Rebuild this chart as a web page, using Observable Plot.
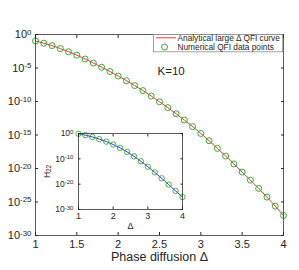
<!DOCTYPE html>
<html><head><meta charset="utf-8">
<script src="https://cdn.jsdelivr.net/npm/d3@7"></script>
<script src="https://cdn.jsdelivr.net/npm/@observablehq/plot@0.6"></script>
<style>
body{margin:0;background:#fff;}
#wrap{position:relative;width:299px;height:270px;}
#wrap svg{position:absolute;}
</style></head><body><div id="wrap"></div>
<script>
// ---- data ----
const deltaMain = [1.0,1.1,1.2,1.3,1.4,1.5,1.6,1.7,1.8,1.9,2.0,2.1,2.2,2.3,2.4,2.5,2.6,2.7,2.8,2.9,3.0,3.1,3.2,3.3,3.4,3.5,3.6,3.7,3.8,3.9,4.0];
const qfiNumerical = [1.1e-1,5.0e-2,2.2e-2,7.9e-3,2.7e-3,8.3e-4,2.2e-4,5.5e-5,1.3e-5,3.0e-6,6.2e-7,1.26e-7,2.4e-8,4.2e-9,6.5e-10,9.1e-11,1.23e-11,1.5e-12,1.7e-13,1.8e-14,1.7e-15,1.4e-16,1.0e-17,7.2e-19,4.8e-20,2.9e-21,1.8e-22,1.05e-23,5.4e-25,2.4e-26,9.8e-28];
const qfiAnalytical = [1.1e-1,5.0e-2,2.2e-2,7.9e-3,2.7e-3,8.3e-4,2.2e-4,5.5e-5,1.3e-5,3.0e-6,6.2e-7,1.26e-7,2.4e-8,4.2e-9,6.5e-10,9.1e-11,1.23e-11,1.5e-12,1.7e-13,1.8e-14,1.7e-15,1.4e-16,1.0e-17,7.2e-19,4.8e-20,2.9e-21,1.8e-22,1.05e-23,5.4e-25,2.4e-26,9.8e-28];
const xTicksMain = [1,1.5,2,2.5,3,3.5,4];
const yTicksMain = [1,1e-5,1e-10,1e-15,1e-20,1e-25,1e-30];

const deltaInset = [1.0,1.2,1.4,1.6,1.8,2.0,2.2,2.4,2.6,2.8,3.0,3.2,3.4,3.6,3.8,4.0];
const h22Values = [8e-1,2.2e-1,4.5e-2,6.3e-3,6.3e-4,4.5e-5,2.0e-6,5.6e-8,1.0e-9,1.1e-11,7.9e-14,4.5e-16,2.0e-18,7.1e-21,2.2e-23,7.9e-26];
const xTicksInset = [1,2,3,4];
const yTicksInset = [1,1e-10,1e-20,1e-30];

const legendLabels = ["Analytical large \u0394 QFI curve","Numerical QFI data points"];
const annotation = "K=10";

// ---- styling ----
const FONT = "'Liberation Sans', Arial, Helvetica, sans-serif";
const GREEN = "#22a022";
const INK = "#262626";
const pow10 = d => "10^" + Math.round(Math.log10(d));

const numData = deltaMain.map((d,i)=>({delta:d, qfi:qfiNumerical[i]}));
const anaData = deltaMain.map((d,i)=>({delta:d, qfi:qfiAnalytical[i]}));
const insetData = deltaInset.map((d,i)=>({delta:d, h:h22Values[i]}));

const main = Plot.plot({
  width: 299, height: 270,
  marginLeft: 35, marginRight: 16, marginTop: 34, marginBottom: 35,
  style: {fontFamily: FONT, fontSize: "11px", color: INK, background: "white", overflow: "visible"},
  x: {domain: [1, 4]},
  y: {type: "log", domain: [1e-30, 1]},
  marks: [
    Plot.line(anaData, {x: "delta", y: "qfi", stroke: "#ff0000", strokeWidth: 0.8}),
    Plot.dot(numData, {x: "delta", y: "qfi", r: 3, stroke: GREEN, strokeWidth: 0.9, fill: "none"}),
    Plot.frame({stroke: "#333", strokeWidth: 0.8}),
    Plot.axisX({ticks: xTicksMain, tickSize: -3, tickPadding: 8, tickFormat: d => String(d), label: null}),
    Plot.axisX({ticks: [], tickSize: 0, label: "Phase diffusion \u0394", labelAnchor: "center", labelArrow: "none", labelOffset: 25, fontSize: 12.5}),
    Plot.axisX({anchor: "top", ticks: xTicksMain, tickSize: -3, tickFormat: () => "", label: null}),
    Plot.axisY({ticks: yTicksMain, tickSize: -3, tickPadding: 7, tickFormat: pow10, label: null}),
    Plot.axisY({anchor: "right", ticks: yTicksMain, tickSize: -3, tickFormat: () => "", label: null}),
    Plot.text([annotation], {text: d => d, frameAnchor: "top-left", dx: 122, dy: 40, textAnchor: "start", lineAnchor: "bottom", fontSize: 11.5})
  ]
});

const inset = Plot.plot({
  width: 160, height: 108,
  marginLeft: 42, marginTop: 8, marginRight: 14, marginBottom: 24,
  style: {fontFamily: FONT, fontSize: "8.5px", color: INK, background: "transparent", overflow: "visible"},
  x: {domain: [1, 4]},
  y: {type: "log", domain: [1e-30, 1]},
  marks: [
    Plot.frame({fill: "white"}),
    Plot.line(insetData, {x: "delta", y: "h", stroke: "#0000ff", strokeWidth: 0.8}),
    Plot.dot(insetData, {x: "delta", y: "h", r: 2.7, stroke: GREEN, strokeWidth: 0.8, fill: "none"}),
    Plot.frame({stroke: "#333", strokeWidth: 0.8}),
    Plot.axisX({ticks: xTicksInset, tickSize: -2.5, tickPadding: 5.5, tickFormat: d => String(d), label: "\u0394", labelAnchor: "center", labelArrow: "none", labelOffset: 19, fontSize: 9}),
    Plot.axisX({anchor: "top", ticks: xTicksInset, tickSize: -2.5, tickFormat: () => "", label: null}),
    Plot.axisY({ticks: yTicksInset, tickSize: -2.5, tickPadding: 7.5, tickFormat: pow10, label: "H22", labelAnchor: "center", labelArrow: "none", labelOffset: 35}),
    Plot.axisY({anchor: "right", ticks: yTicksInset, tickSize: -2.5, tickFormat: () => "", label: null})
  ]
});

function supify(svg) {
  d3.select(svg).selectAll('g[aria-label="y-axis tick label"] text').each(function() {
    const t = this.textContent; const parts = t.split("^");
    if (parts.length < 2) return;
    const s = d3.select(this); s.text(parts[0]);
    s.append("tspan").attr("dy", "-0.42em").attr("font-size", "0.72em").text(parts[1]);
  });
}
supify(main); supify(inset);
d3.select(inset).selectAll('g[aria-label="y-axis label"] text').each(function() {
  const s = d3.select(this); s.text("H");
  s.append("tspan").attr("dy", "0.3em").attr("font-size", "0.75em").text("22");
});

// legend inside main axes
const lg = d3.select(main).append("g").attr("font-family", FONT).attr("font-size", 8.3).attr("fill", INK).attr("text-anchor", "start");
lg.append("rect").attr("x", 153.5).attr("y", 34.4).attr("width", 129.2).attr("height", 17.4)
  .attr("fill", "white").attr("stroke", "#8a8a8a").attr("stroke-width", 0.8);
lg.append("line").attr("x1", 156).attr("x2", 176).attr("y1", 37.8).attr("y2", 37.8).attr("stroke", "#ff0000").attr("stroke-width", 0.8);
lg.append("circle").attr("cx", 164.5).attr("cy", 47).attr("r", 3).attr("fill", "none").attr("stroke", GREEN).attr("stroke-width", 0.9);
lg.append("text").attr("x", 177.5).attr("y", 41).attr("text-anchor", "start").text(legendLabels[0]);
lg.append("text").attr("x", 177.5).attr("y", 49.6).attr("text-anchor", "start").text(legendLabels[1]);

const wrap = document.getElementById("wrap");
main.style.left = "0px"; main.style.top = "0px";
inset.style.left = "36px"; inset.style.top = "125px";
wrap.appendChild(main);
wrap.appendChild(inset);
</script></body></html>
